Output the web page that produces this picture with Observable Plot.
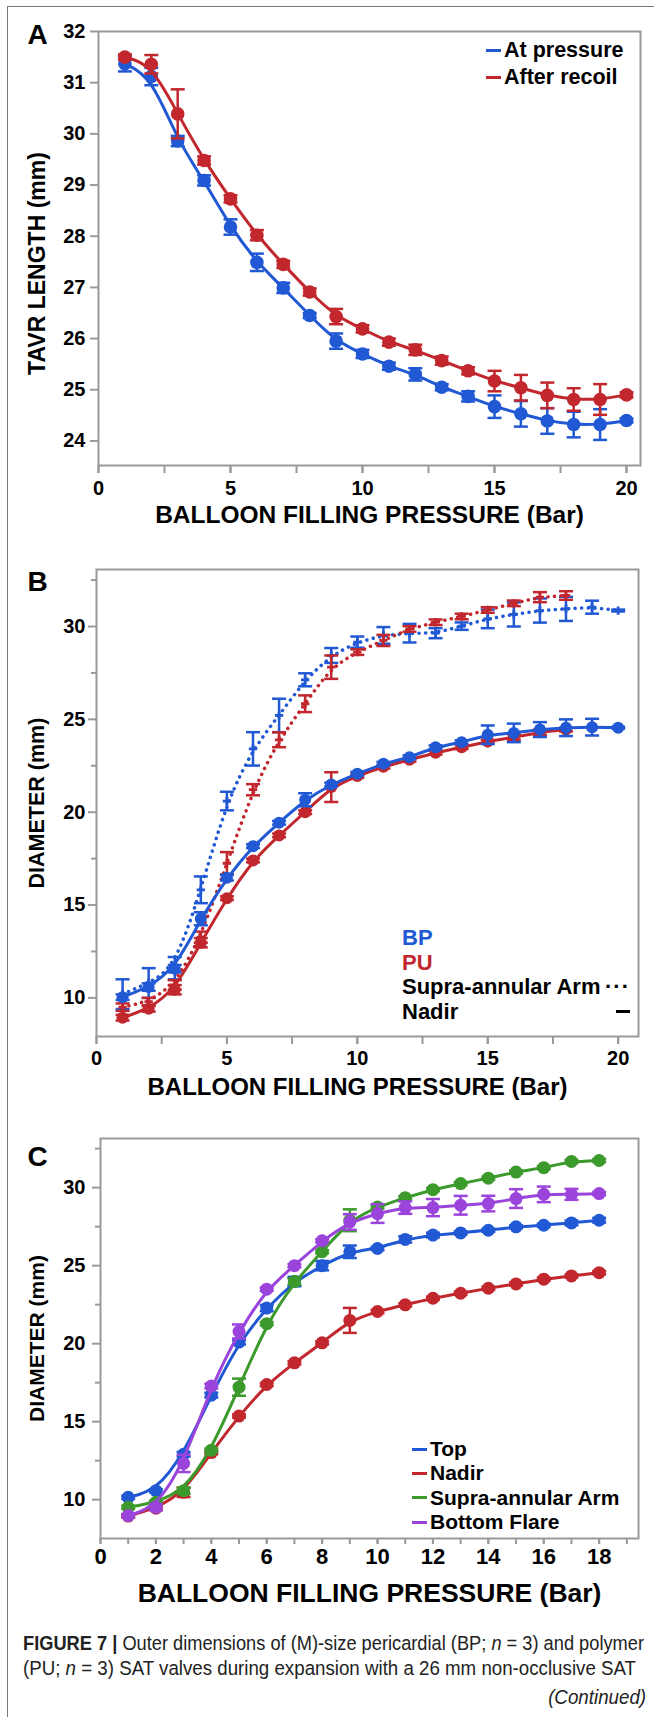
<!DOCTYPE html>
<html><head><meta charset="utf-8">
<script src="https://cdn.jsdelivr.net/npm/d3@7"></script>
<script src="https://cdn.jsdelivr.net/npm/@observablehq/plot@0.6"></script>
<style>
body{margin:0;background:#fff;}
#page{position:relative;width:654px;height:1717px;overflow:hidden;font-family:"Liberation Sans",Arial,Helvetica,sans-serif;color:#000;}
#border{position:absolute;left:7px;top:6px;width:800px;height:1900px;border-left:1.5px solid #777;border-top:1.5px solid #777;}
.panel{position:absolute;left:0;}
.leg{position:absolute;font-weight:bold;white-space:nowrap;}
.row{display:flex;align-items:center;height:27px;}
.sw{display:inline-block;width:15px;height:3px;margin-right:3px;}
.capline{position:absolute;left:23px;font-size:20.5px;line-height:25px;color:#222;white-space:nowrap;transform-origin:0 50%;}
#cont{position:absolute;font-size:20.5px;line-height:25px;font-style:italic;color:#222;white-space:nowrap;transform-origin:100% 50%;}
</style></head>
<body><div id="page"><div id="border"></div></div>
<script>
// ---------- DATA ----------
// Panel A: TAVR length vs balloon filling pressure
const pressureA = [1,2,3,4,5,6,7,8,9,10,11,12,13,14,15,16,17,18,19,20];
const atPressure = [31.37,31.12,29.86,29.09,28.18,27.49,26.99,26.45,25.95,25.70,25.46,25.30,25.05,24.87,24.67,24.53,24.39,24.32,24.32,24.40];
const atPressureErr = [0.15,0.17,0.1,0.1,0.15,0.17,0.1,0.05,0.15,0.08,0.07,0.12,0.06,0.1,0.22,0.25,0.25,0.25,0.3,0.04];
const afterRecoil = [31.50,31.36,30.39,29.48,28.73,28.02,27.45,26.91,26.43,26.19,25.93,25.78,25.57,25.37,25.17,25.04,24.89,24.81,24.81,24.90];
const afterRecoilErr = [0.05,0.18,0.48,0.08,0.07,0.1,0.07,0.07,0.15,0.07,0.07,0.1,0.08,0.07,0.2,0.25,0.25,0.22,0.3,0.05];

// Panel B: diameter, BP vs PU, supra-annular arm (dotted) and nadir (solid)
const pressureB = [1,2,3,4,5,6,7,8,9,10,11,12,13,14,15,16,17,18,19,20];
const bpNadir = [10.04,10.58,11.57,14.26,16.47,18.17,19.43,20.67,21.49,22.07,22.61,22.96,23.50,23.77,24.17,24.27,24.45,24.55,24.58,24.55];
const bpNadirErr = [0.15,0.2,0.2,0.35,0.15,0.1,0.1,0.35,0.1,0.1,0.1,0.1,0.1,0.1,0.5,0.5,0.4,0.45,0.45,0.05];
const puNadir = [8.93,9.41,10.44,12.97,15.37,17.40,18.75,20.00,21.35,21.95,22.45,22.82,23.20,23.50,23.80,24.05,24.30,24.45];
const puNadirErr = [0.15,0.15,0.25,0.25,0.1,0.1,0.1,0.1,0.8,0.1,0.1,0.1,0.1,0.1,0.1,0.15,0.15,0.1];
const bpSupra = [10.2,10.8,11.6,15.82,20.6,23.41,25.21,27.13,28.44,29.16,29.52,29.64,29.64,30.02,30.41,30.65,30.86,30.95,31.04,30.86];
const bpSupraErr = [0.8,0.8,0.6,0.72,0.5,0.9,0.9,0.35,0.4,0.3,0.45,0.5,0.27,0.2,0.5,0.65,0.65,0.65,0.35,0.05];
const puSupra = [9.5,9.8,10.7,13.27,17.25,21.21,23.90,25.84,27.81,28.62,29.25,29.87,30.23,30.54,30.89,31.25,31.58,31.67];
const puSupraErr = [0.2,0.2,0.25,0.3,0.6,0.3,0.4,0.45,0.63,0.15,0.3,0.15,0.15,0.15,0.15,0.15,0.27,0.23];

// Panel C: diameter of top, nadir, supra-annular arm, bottom flare
const pressureC = [1,2,3,4,5,6,7,8,9,10,11,12,13,14,15,16,17,18];
const topD = [10.15,10.57,12.91,16.70,20.10,22.28,23.98,25.00,25.89,26.10,26.68,26.96,27.10,27.27,27.49,27.59,27.74,27.91];
const topErr = [0.1,0.1,0.15,0.15,0.15,0.2,0.3,0.3,0.4,0.1,0.2,0.15,0.1,0.1,0.1,0.1,0.15,0.15];
const nadirD = [8.95,9.45,10.47,13.02,15.36,17.38,18.77,20.05,21.49,22.06,22.49,22.91,23.23,23.55,23.83,24.13,24.34,24.55];
const nadirErr = [0.1,0.1,0.3,0.1,0.1,0.1,0.1,0.1,0.8,0.1,0.1,0.1,0.1,0.1,0.1,0.1,0.1,0.1];
const supraD = [9.51,9.83,10.57,13.17,17.21,21.28,23.98,25.89,27.91,28.76,29.36,29.87,30.26,30.61,31.00,31.28,31.68,31.74];
const supraErr = [0.1,0.1,0.2,0.1,0.55,0.1,0.2,0.1,0.7,0.1,0.1,0.1,0.1,0.1,0.1,0.1,0.1,0.1];
const flareD = [8.98,9.51,12.32,17.28,20.78,23.49,25.00,26.59,27.80,28.34,28.72,28.72,28.87,28.98,29.30,29.57,29.57,29.62];
const flareErr = [0.1,0.2,0.55,0.15,0.45,0.1,0.1,0.1,0.5,0.6,0.4,0.55,0.6,0.5,0.6,0.5,0.35,0.1];

// ticks
const xTicksA = [0,2.5,5,7.5,10,12.5,15,17.5,20];
const xLabelsA = [0,5,10,15,20];
const yTicksA = [24,25,26,27,28,29,30,31,32];
const xTicksB = [0,2.5,5,7.5,10,12.5,15,17.5,20];
const xLabelsB = [0,5,10,15,20];
const yLabelsB = [10,15,20,25,30];
const yMinorB = [12.5,17.5,22.5,27.5,32.5];
const xTicksC = [0,1,2,3,4,5,6,7,8,9,10,11,12,13,14,15,16,17,18,19];
const xLabelsC = [0,2,4,6,8,10,12,14,16,18];
const yLabelsC = [10,15,20,25,30];
const yMinorC = [12.5,17.5,22.5,27.5,32.5];

const BLUE = "#2158d4", RED = "#c1272d", GREEN = "#3c9a2c", PURPLE = "#9a44dc";
const AXIS = "#999";
const FONT = "Liberation Sans, Arial, Helvetica, sans-serif";

// ---------- HELPERS ----------
const capSym = {draw(ctx, size){ const w = Math.sqrt(size/Math.PI); ctx.moveTo(-w,0); ctx.lineTo(w,0); }};
function series(xs, ys, es, color, opt = {}) {
  const data = ys.map((v,i)=>({x: xs[i], y: v, e: es[i]}));
  return [
    Plot.line(data, {x:"x", y:"y", stroke: color, strokeWidth: opt.lw || 3, curve: "basis",
      strokeDasharray: opt.dash, strokeLinecap: opt.dash ? "round" : "butt"}),
    Plot.ruleX(data, {x:"x", y1: d=>d.y-d.e, y2: d=>d.y+d.e, stroke: color, strokeWidth: 2.5}),
    Plot.dot(data, {x:"x", y: d=>d.y+d.e, symbol: capSym, r: 7, fill: "none", stroke: color, strokeWidth: 2.5}),
    Plot.dot(data, {x:"x", y: d=>d.y-d.e, symbol: capSym, r: 7, fill: "none", stroke: color, strokeWidth: 2.5}),
    Plot.dot(data, {x:"x", y:"y", r: opt.r || 6.5, fill: color, stroke: "none", symbol: opt.symbol || "circle"})
  ];
}
function axes(c) {
  const m = [
    Plot.frame({stroke: AXIS, strokeWidth: 2}),
    Plot.axisX({ticks: c.xTicks, tickSize: c.xTickSize || 8, tickPadding: 100, stroke: AXIS, strokeWidth: 2, tickFormat: () => "", label: null}),
    Plot.axisX({ticks: c.xLabels, tickSize: c.xTickSize || 8, tickPadding: c.xPad, stroke: AXIS, strokeWidth: 2, fill: "#000", fontSize: c.xFont, fontWeight: "bold", label: null}),
    Plot.axisY({ticks: c.yLabels, tickSize: 8, tickPadding: c.yPad, stroke: AXIS, strokeWidth: 2, fill: "#000", fontSize: c.yFont, fontWeight: "bold", label: null}),
    Plot.text([c.xTitle], {frameAnchor: "bottom", dy: c.xTitleDy, dx: c.xTitleDx || 0, text: d=>d, fontSize: c.xTitleSize, fontWeight: "bold", textAnchor: "middle", lineAnchor: "middle", fill: "#000"}),
    Plot.text([c.yTitle], {frameAnchor: "left", dx: -c.yTitleDx, dy: c.yTitleDy || 0, rotate: -90, text: d=>d, fontSize: c.yTitleSize, fontWeight: "bold", textAnchor: "middle", lineAnchor: "middle", fill: "#000"}),
    Plot.text([c.letter], {frameAnchor: "top-left", dx: c.letterDx, dy: c.letterDy, text: d=>d, fontSize: 28, fontWeight: "bold", textAnchor: "start", lineAnchor: "bottom", fill: "#000"})
  ];
  if (c.yMinor) m.push(Plot.axisY({ticks: c.yMinor, tickSize: 5, stroke: AXIS, strokeWidth: 2, tickFormat: () => "", label: null}));
  return m;
}
function place(svg, top) {
  const d = document.createElement("div");
  d.className = "panel"; d.style.top = top + "px";
  d.appendChild(svg);
  document.getElementById("page").appendChild(d);
}
const baseStyle = {fontFamily: FONT, fontWeight: "bold", background: "transparent", overflow: "visible", color: "#000"};

// ---------- PANEL A ----------
const plotA = Plot.plot({
  width: 654, height: 540,
  marginLeft: 98, marginRight: 14, marginTop: 31, marginBottom: 75,
  x: {domain: [0, 20.53], label: null},
  y: {domain: [23.52, 32], label: null},
  style: baseStyle,
  marks: [
    ...axes({xTicks: xTicksA, xLabels: xLabelsA, xPad: 7, xFont: 20, yLabels: yTicksA, yPad: 5, yFont: 20,
      xTitle: "BALLOON FILLING PRESSURE (Bar)", xTitleDy: 50, xTitleSize: 24.5,
      yTitle: "TAVR LENGTH (mm)", yTitleDx: 61, yTitleDy: 15, yTitleSize: 23,
      letter: "A", letterDx: -71, letterDy: 12}),
    ...series(pressureA, atPressure, atPressureErr, BLUE, {r: 6.8}),
    ...series(pressureA, afterRecoil, afterRecoilErr, RED, {r: 6.8})
  ]
});
place(plotA, 0);

// ---------- PANEL B ----------
const plotB = Plot.plot({
  width: 654, height: 570,
  marginLeft: 96, marginRight: 16, marginTop: 29, marginBottom: 74,
  x: {domain: [0, 20.78], label: null},
  y: {domain: [7.92, 33.07], label: null},
  style: baseStyle,
  marks: [
    ...axes({xTicks: xTicksB, xLabels: xLabelsB, xPad: 6, xFont: 20, yLabels: yLabelsB, yMinor: yMinorB, yPad: 3, yFont: 20,
      xTitle: "BALLOON FILLING PRESSURE (Bar)", xTitleDy: 51, xTitleDx: -10, xTitleSize: 24,
      yTitle: "DIAMETER (mm)", yTitleDx: 59, yTitleSize: 21.5,
      letter: "B", letterDx: -69, letterDy: 21}),
    ...series(pressureB, bpSupra, bpSupraErr, BLUE, {dash: "0.1,6.5", symbol: "cross", r: 3.5, lw: 3.5}),
    ...series(pressureB.slice(0, puSupra.length), puSupra, puSupraErr, RED, {dash: "0.1,6.5", symbol: "cross", r: 3.5, lw: 3.5}),
    ...series(pressureB.slice(0, puNadir.length), puNadir, puNadirErr, RED, {r: 6}),
    ...series(pressureB, bpNadir, bpNadirErr, BLUE, {r: 6})
  ]
});
place(plotB, 540);

// ---------- PANEL C ----------
const plotC = Plot.plot({
  width: 654, height: 505,
  marginLeft: 100, marginRight: 16, marginTop: 28, marginBottom: 77,
  x: {domain: [0, 19.42], label: null},
  y: {domain: [7.51, 33.15], label: null},
  style: baseStyle,
  marks: [
    ...axes({xTicks: xTicksC, xLabels: xLabelsC, xPad: 4, xTickSize: 6, xFont: 22, yLabels: yLabelsC, yMinor: yMinorC, yPad: 7, yFont: 20,
      xTitle: "BALLOON FILLING PRESSURE (Bar)", xTitleDy: 55, xTitleSize: 26.5,
      yTitle: "DIAMETER (mm)", yTitleDx: 63, yTitleSize: 21,
      letter: "C", letterDx: -73, letterDy: 27}),
    ...series(pressureC, nadirD, nadirErr, RED),
    ...series(pressureC, topD, topErr, BLUE),
    ...series(pressureC, supraD, supraErr, GREEN),
    ...series(pressureC, flareD, flareErr, PURPLE)
  ]
});
place(plotC, 1110);

// ---------- LEGENDS ----------
const page = document.getElementById("page");
function legend(left, top, rows, fontSize) {
  const d = document.createElement("div");
  d.className = "leg"; d.style.left = left + "px"; d.style.top = top + "px"; d.style.fontSize = fontSize + "px";
  d.innerHTML = rows;
  page.appendChild(d);
}
legend(486, 36.5, `<div class="row"><span class="sw" style="background:${BLUE}"></span>At pressure</div>
<div class="row"><span class="sw" style="background:${RED}"></span>After recoil</div>`, 21.5);

const legB = document.createElement("div");
legB.className = "leg";
legB.style.cssText = "left:402px;top:926px;font-size:22px;width:228px;";
legB.innerHTML = `<div class="row" style="height:24.5px;color:${BLUE}">BP</div>
<div class="row" style="height:24.5px;color:${RED}">PU</div>
<div class="row" style="height:24.5px;justify-content:space-between">Supra-annular Arm<span style="letter-spacing:1px">···</span></div>
<div class="row" style="height:24.5px;justify-content:space-between">Nadir<span style="display:inline-block;width:14px;height:3px;background:#000"></span></div>`;
page.appendChild(legB);

legend(412, 1437, `<div class="row" style="height:24.3px"><span class="sw" style="background:${BLUE}"></span>Top</div>
<div class="row" style="height:24.3px"><span class="sw" style="background:${RED}"></span>Nadir</div>
<div class="row" style="height:24.3px"><span class="sw" style="background:${GREEN}"></span>Supra-annular Arm</div>
<div class="row" style="height:24.3px"><span class="sw" style="background:${PURPLE}"></span>Bottom Flare</div>`, 21);

// ---------- CAPTION ----------
function capLine(html, top, targetWidth) {
  const d = document.createElement("div");
  d.className = "capline"; d.style.top = top + "px";
  d.innerHTML = html;
  page.appendChild(d);
  const w = d.getBoundingClientRect().width;
  d.style.transform = `scaleX(${targetWidth / w})`;
}
capLine(`<b>FIGURE 7 |</b> Outer dimensions of (M)-size pericardial (BP; <i>n</i> = 3) and polymer`, 1630, 621);
capLine(`(PU; <i>n</i> = 3) SAT valves during expansion with a 26 mm non-occlusive SAT`, 1655, 613);
const cont = document.createElement("div");
cont.id = "cont"; cont.textContent = "(Continued)";
cont.style.right = "8px"; cont.style.top = "1684px";
page.appendChild(cont);
cont.style.transform = `scaleX(${98 / cont.getBoundingClientRect().width})`;
</script>
</body></html>
